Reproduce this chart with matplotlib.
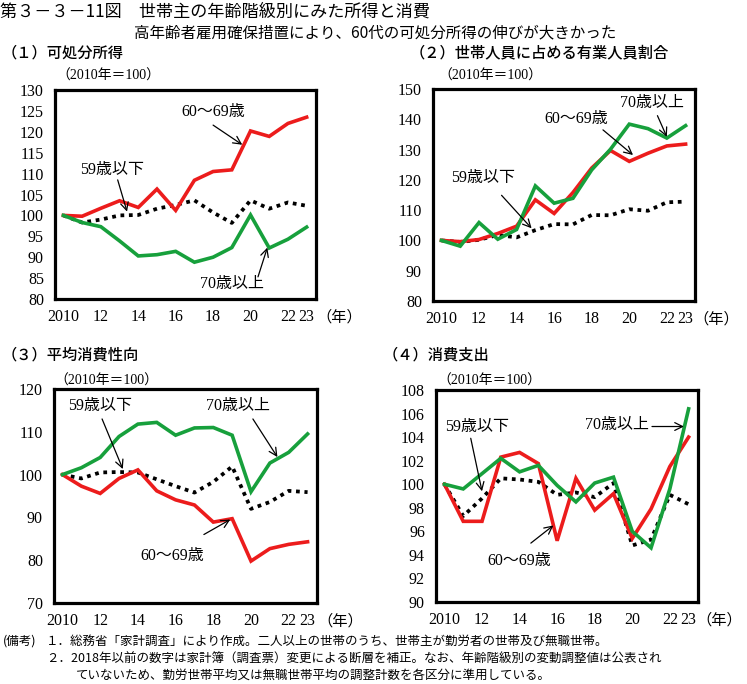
import matplotlib
matplotlib.use("Agg")
import matplotlib.pyplot as plt
import matplotlib.transforms as mtransforms

plt.rcParams['font.family'] = ['Liberation Serif', 'Noto Sans CJK JP', 'DejaVu Sans']

years = list(range(2010, 2024))
xtick_pos = [2010, 2012, 2014, 2016, 2018, 2020, 2022, 2023]
xtick_labels = ["2010", "12", "14", "16", "18", "20", "22", "23"]

# (1) disposable income
p1_under59 = [100, 98.3, 99.0, 100.0, 100.1, 101.6, 102.5, 103.6, 100.7, 98.2, 103.6, 101.6, 103.1, 102.3]
p1_60s = [100, 99.8, 101.7, 103.5, 101.9, 106.3, 101.2, 108.4, 110.5, 110.9, 120.2, 118.9, 122.0, 123.5]
p1_70plus = [100, 98.3, 97.3, 93.9, 90.3, 90.6, 91.4, 88.8, 90.0, 92.3, 100.1, 92.2, 94.3, 97.2]
p1_yticks = [80, 85, 90, 95, 100, 105, 110, 115, 120, 125, 130]

# (2) share of employed members
p2_under59 = [100, 99.5, 100.2, 101.8, 101.0, 103.4, 105.4, 105.3, 108.4, 108.3, 110.3, 109.8, 112.6, 112.8]
p2_60s = [100, 99.6, 100.3, 102.3, 104.7, 113.4, 108.9, 115.8, 123.9, 129.7, 126.1, 128.8, 131.2, 131.8]
p2_70plus = [100, 98.1, 105.9, 100.4, 103.6, 118.0, 112.3, 113.9, 123.3, 130.1, 138.4, 136.9, 133.8, 137.9]
p2_yticks = [80, 90, 100, 110, 120, 130, 140, 150]

# (3) average propensity to consume
p3_under59 = [100, 99.1, 100.5, 100.6, 100.5, 98.9, 97.3, 95.8, 98.3, 101.9, 92.0, 93.6, 96.2, 95.9]
p3_60s = [100, 97.3, 95.6, 99.1, 101.1, 96.2, 94.1, 92.9, 88.9, 89.7, 79.8, 82.7, 83.7, 84.3]
p3_70plus = [100, 101.6, 104.0, 108.9, 111.8, 112.2, 109.2, 110.9, 111.0, 109.2, 96.0, 102.7, 105.2, 109.5]
p3_yticks = [70, 80, 90, 100, 110, 120]

# (4) consumption expenditure
p4_under59 = [100, 97.3, 98.8, 100.5, 100.4, 100.2, 99.1, 99.3, 98.9, 100.1, 94.8, 95.3, 99.1, 98.3]
p4_60s = [100, 96.85, 96.85, 102.3, 102.7, 101.75, 95.2, 100.5, 97.8, 99.2, 95.4, 97.9, 101.5, 104.0]
p4_70plus = [100, 99.6, 100.9, 102.2, 101.05, 101.6, 99.9, 98.5, 100.1, 100.6, 96.0, 94.6, 99.6, 106.4]
p4_yticks = [90, 92, 94, 96, 98, 100, 102, 104, 106, 108]

label_under59 = "59歳以下"
label_60s = "60～69歳"
label_70plus = "70歳以上"

RED = '#ec1c1c'
GREEN = '#17a03c'
JP = ['Noto Sans CJK JP', 'DejaVu Sans']
SER = ['Liberation Serif', 'Noto Sans CJK JP']

fig = plt.figure(figsize=(7.47, 6.84), dpi=100)

def px_rect(l, t, r, b):
    W, H = 747, 684
    return [l / W, 1 - b / H, (r - l) / W, (b - t) / H]


def make_panel(rect, yticks, under, s60, s70, title, title_xy, base_xy, nen_x):
    ax = fig.add_axes(px_rect(*rect))
    ax.plot(years, under, color='black', lw=2.7, ls=(0, (1, 1.25)), zorder=2)
    ax.plot(years, s60, color=RED, lw=2.6, zorder=3, solid_joinstyle='miter')
    ax.plot(years, s70, color=GREEN, lw=2.6, zorder=4, solid_joinstyle='miter')
    ax.set_xlim(2009.55, 2023.5)
    ax.set_ylim(yticks[0], yticks[-1])
    ax.set_yticks(yticks)
    ax.set_yticklabels([str(v) for v in yticks])
    ax.set_xticks(xtick_pos)
    ax.set_xticklabels(xtick_labels)
    ax.tick_params(axis='both', length=0, labelsize=11.5)
    ax.tick_params(axis='y', pad=8)
    ax.tick_params(axis='x', pad=7)
    for lab in ax.get_xticklabels() + ax.get_yticklabels():
        lab.set_fontfamily(SER)
    for sp in ax.spines.values():
        sp.set_linewidth(2.3)
        sp.set_color('black')
    fig.text(title_xy[0] / 747, 1 - title_xy[1] / 684, title, fontsize=11,
             family=JP, va='center', ha='left', weight='medium')
    fig.text(base_xy[0] / 747, 1 - base_xy[1] / 684, "（2010年＝100）", fontsize=10,
             family=SER, va='center', ha='left')
    trans = mtransforms.blended_transform_factory(ax.transAxes, ax.transAxes)
    ax.text(nen_x, -0.085, "（年）", fontsize=11, family=JP, ha='center', va='center',
            transform=trans, clip_on=False)
    return ax


def note(ax, text, txy, tail, head):
    ax.text(txy[0], txy[1], text, fontsize=11.5, family=SER, ha='center', va='center', zorder=6)
    ax.annotate("", xy=head, xytext=tail,
                arrowprops=dict(arrowstyle='->', lw=0.9, color='black',
                                shrinkA=0, shrinkB=0, mutation_scale=14), zorder=6)


ax1 = make_panel((55, 90, 316, 299), p1_yticks, p1_under59, p1_60s, p1_70plus,
                 "（１）可処分所得", (2, 53), (56, 76), 1.09)
note(ax1, label_60s, (2018.0, 124.8), (2018.0, 121.6), (2019.56, 116.9))
note(ax1, label_under59, (2012.6, 110.9), (2012.9, 108.5), (2013.4, 100.9))
note(ax1, label_70plus, (2019.0, 83.6), (2020.4, 85.3), (2020.9, 92.3))

ax2 = make_panel((433, 89, 695, 301), p2_yticks, p2_under59, p2_60s, p2_70plus,
                 "（２）世帯人員に占める有業人員割合", (410, 53), (438, 76), 1.08)
note(ax2, label_70plus, (2021.2, 145.5), (2021.5, 141.2), (2022.0, 134.2))
note(ax2, label_60s, (2017.2, 140.1), (2018.6, 136.5), (2020.2, 128.2))
note(ax2, label_under59, (2012.2, 120.6), (2013.2, 114.9), (2014.8, 104.0))

ax3 = make_panel((54, 389, 317, 603), p3_yticks, p3_under59, p3_60s, p3_70plus,
                 "（３）平均消費性向", (2, 355), (54, 381), 1.09)
note(ax3, label_under59, (2012.0, 116.0), (2012.1, 113.0), (2013.2, 101.3))
note(ax3, label_70plus, (2019.3, 116.0), (2020.1, 113.0), (2021.4, 104.1))
note(ax3, label_60s, (2015.8, 80.9), (2017.5, 86.0), (2018.9, 89.5))

ax4 = make_panel((436, 390, 698, 602), p4_yticks, p4_under59, p4_60s, p4_70plus,
                 "（４）消費支出", (383, 355), (437, 381), 1.08)
note(ax4, label_under59, (2011.75, 104.9), (2011.4, 103.9), (2012.0, 99.4))
note(ax4, label_70plus, (2019.2, 105.0), (2021.05, 104.9), (2022.75, 104.9))
note(ax4, label_60s, (2014.0, 93.5), (2014.6, 95.0), (2015.8, 96.5))

# Header
fig.text(0.0, 1 - 12 / 684, "第３－３－11図　世帯主の年齢階級別にみた所得と消費",
         fontsize=12.3, family=JP, ha='left', va='center')
fig.text(375 / 747, 1 - 33 / 684, "高年齢者雇用確保措置により、60代の可処分所得の伸びが大きかった",
         fontsize=11.2, family=JP, ha='center', va='center')

# Notes
NOTE_FS = 9.0
fig.text(3 / 747, 1 - 641 / 684, "(備考)", fontsize=NOTE_FS, family=JP, ha='left', va='center')
fig.text(46 / 747, 1 - 641 / 684,
         "１．総務省「家計調査」により作成。二人以上の世帯のうち、世帯主が勤労者の世帯及び無職世帯。",
         fontsize=NOTE_FS, family=JP, ha='left', va='center')
fig.text(46 / 747, 1 - 659 / 684,
         "２．2018年以前の数字は家計簿（調査票）変更による断層を補正。なお、年齢階級別の変動調整値は公表され",
         fontsize=NOTE_FS, family=JP, ha='left', va='center')
fig.text(76 / 747, 1 - 675 / 684,
         "ていないため、勤労世帯平均又は無職世帯平均の調整計数を各区分に準用している。",
         fontsize=NOTE_FS, family=JP, ha='left', va='center')

fig.savefig("out.png", dpi=100)
